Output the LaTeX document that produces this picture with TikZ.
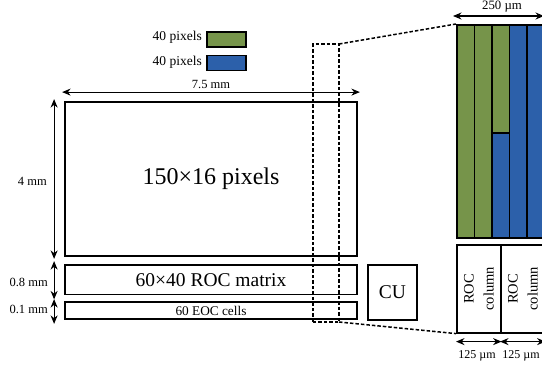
\documentclass[tikz,border=0pt]{standalone}
\usepackage{fontspec}
\setmainfont{Liberation Serif}
\usetikzlibrary{arrows.meta,calc}
\definecolor{pgreen}{RGB}{118,148,74}
\definecolor{pblue}{RGB}{44,96,170}
\begin{document}
\begin{tikzpicture}[x=1pt,y=-1pt,
  box/.style={draw, line width=1.8pt, inner sep=0pt},
  dim/.style={{Stealth[length=8.5pt,width=7pt]}-{Stealth[length=8.5pt,width=7pt]}, line width=1.1pt},
  zoomline/.style={dash pattern=on 3.5pt off 2pt, line width=1.5pt},
  colbox/.style={draw, line width=1.6pt, inner sep=0pt, minimum width=17.6pt, anchor=north west},
  lbl/.style={inner sep=0pt, font=\fontsize{12.5}{14}\selectfont},
  leg/.style={draw, line width=1.6pt, inner sep=0pt, minimum width=39pt, minimum height=15pt, anchor=north west}]
\clip (0,0) rectangle (542,365);

% legend
\node[leg, fill=pgreen] (lg) at (206,31) {};
\node[leg, fill=pblue] (lb) at (206,54.5) {};
\node[lbl, anchor=east, font=\fontsize{13.5}{15}\selectfont] (tg) at (202,37.5) {40 pixels};
\node[lbl, anchor=east, font=\fontsize{13.5}{15}\selectfont] (tb) at (202,62) {40 pixels};

% main blocks
\node[box, minimum width=292pt, minimum height=154pt] (main) at (211,179)
  {\fontsize{24}{26}\selectfont 150×16 pixels};
\node[box, minimum width=292pt, minimum height=29.5pt] (roc) at (211,279.75)
  {\fontsize{19.5}{22}\selectfont 60×40 ROC matrix};
\node[box, minimum width=292pt, minimum height=17pt] (eoc) at (211,310.5)
  {\fontsize{13.3}{15}\selectfont 60 EOC cells};
\node[box, minimum width=49pt, minimum height=55pt] (cu) at (392.5,292.5)
  {\fontsize{19.5}{22}\selectfont CU};

% dimensions left
\draw[dim] ($(main.north west)+(-2,-9)$) coordinate (wa) -- ($(main.north east)+(2,-9)$) coordinate (wb)
  node[midway, lbl, above=3pt] {7.5 mm};
\draw[dim] ($(main.north west)+(-10,-2)$) coordinate (ha) -- ($(main.south west)+(-10,2)$) coordinate (hb);
\node[lbl, anchor=east] (t4) at (47,181) {4 mm};
\draw[dim] ($(roc.north west)+(-10,-3)$) coordinate (ra) -- ($(roc.south west)+(-10,4)$) coordinate (rb);
\node[lbl, anchor=east] (t08) at (48,282) {0.8 mm};
\draw[dim] ($(eoc.north west)+(-10,-2)$) coordinate (ea) -- ($(eoc.south west)+(-10,4)$) coordinate (eb);
\node[lbl, anchor=east] (t01) at (48,309.5) {0.1 mm};

% right panel columns
\node[colbox, fill=pgreen, minimum height=213pt] (c0) at (456,24) {};
\node[colbox, fill=pgreen, minimum height=213pt] (c1) at (473.6,24) {};
\node[colbox, fill=pgreen, minimum height=108pt] (c2a) at (491.2,24) {};
\node[colbox, fill=pblue, minimum height=105pt] (c2b) at (491.2,132) {};
\node[colbox, fill=pblue, minimum height=213pt] (c3) at (508.8,24) {};
\node[colbox, fill=pblue, minimum height=213pt] (c4) at (526.4,24) {};
\node[colbox, fill=pblue, minimum height=213pt] (c5) at (544,24) {};

% ROC column boxes
\node[box, line width=1.6pt, minimum width=44pt, minimum height=88pt, anchor=north west] (rc1) at (456,244) {};
\node[box, line width=1.6pt, minimum width=44pt, minimum height=88pt, anchor=north west] (rc2) at (500,244) {};
\node[rotate=90, align=center, font=\fontsize{14.5}{20}\selectfont] at (rc1.center) {ROC\\column};
\node[rotate=90, align=center, font=\fontsize{14.5}{20}\selectfont] at (rc2.center) {ROC\\column};

% dims right
\draw[dim] ($(c0.north west)+(-3,-8)$) coordinate (qa) -- ($(c5.north west)+(0,-8)$) coordinate (qb);
\node[lbl, font=\fontsize{12.8}{14}\selectfont] (t250) at (502,6.5) {250 µm};
\draw[dim] ($(rc1.south west)+(0,8)$) coordinate (pa) -- ($(rc1.south east)+(0,8)$) coordinate (pb);
\draw[dim] ($(rc2.south west)+(0,8)$) coordinate (pc) -- ($(rc2.south east)+(0,8)$) coordinate (pd);
\node[lbl, font=\fontsize{12}{14}\selectfont] (t125a) at (477,356) {125 µm};
\node[lbl, font=\fontsize{12}{14}\selectfont] (t125b) at (521,356) {125 µm};

% zoom window
\coordinate (z1) at (313,44);
\coordinate (z2) at (339,44);
\coordinate (z3) at (339,322);
\coordinate (z4) at (313,322);
\draw[zoomline] (z4) -- (z1) -- (z2) -- (z3) -- cycle;
\draw[zoomline] (z2) -- (c0.north west);
\draw[zoomline] (z3) -- (rc1.south west);
\end{tikzpicture}
\end{document}
